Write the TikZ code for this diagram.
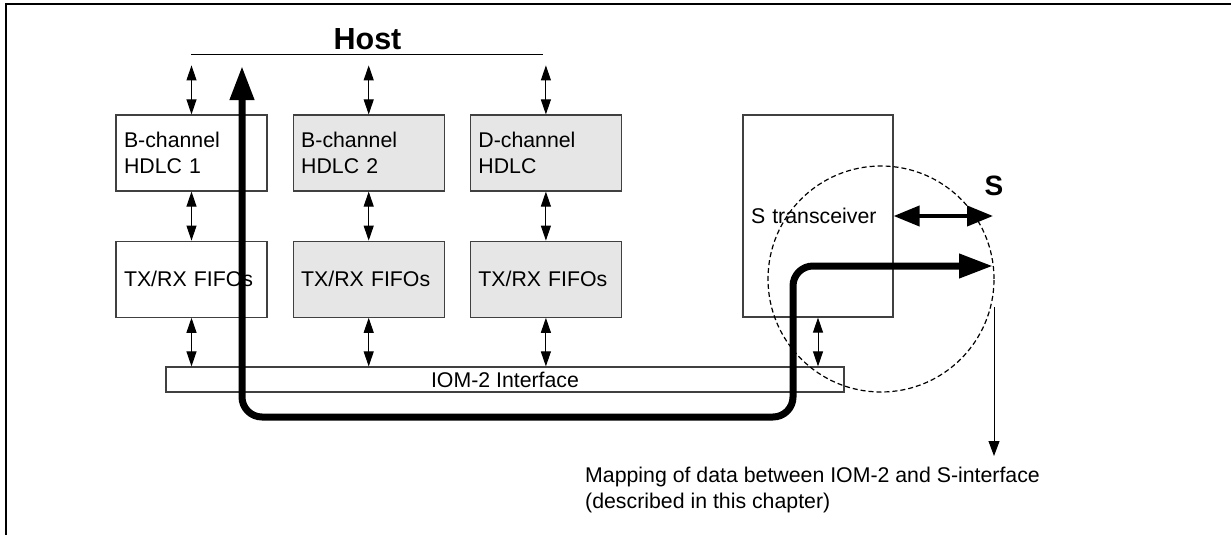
\documentclass[tikz,border=0pt]{standalone}
\usepackage{fontspec}
\setmainfont{Liberation Sans}
\usepackage{tikz}
\usetikzlibrary{arrows.meta,positioning}
\definecolor{blkfill}{HTML}{E6E6E6}
\definecolor{blkline}{HTML}{404040}

\begin{document}
\begin{tikzpicture}[x=1pt,y=-1pt,font=\fontsize{21.3}{26}\selectfont,
  blk/.style={draw=blkline,line width=1.2pt,inner xsep=8pt,inner ysep=0pt,
    text width=135pt,align=left,minimum height=76pt},
  io/.style={<->,line width=1pt,>={Triangle[length=15pt,width=10pt]}},
  sarr/.style={<->,line width=4pt,>={Triangle[length=26pt,width=20pt]}},
  bus/.style={<->,line width=7pt,rounded corners=20pt,>={Triangle[length=34pt,width=23pt]}},
  ptr/.style={->,line width=1pt,>={Triangle[length=15pt,width=11pt]}}]
  \useasboundingbox (0,0) rectangle (1231,535);
  % frame
  \draw[line width=2.5pt] (6,535) -- (6,4) -- (1231,4);
  % host bus
  \node[font=\bfseries\fontsize{30.5}{36}\selectfont,anchor=base] (host) at (367.5,50) {Host};
  \coordinate (hl) at (191,55);
  \coordinate (hr) at (543,55);
  \draw[line width=1pt] (hl) -- (hr);
  % HDLC controllers and FIFOs
  \node[blk] (b1) at (191.5,153) {B-channel\\HDLC 1};
  \node[blk,fill=blkfill,right=25pt of b1] (b2) {B-channel\\HDLC 2};
  \node[blk,fill=blkfill,right=25pt of b2] (b3) {D-channel\\HDLC};
  \node[blk,below=49pt of b1] (f1) {TX/RX FIFOs};
  \node[blk,fill=blkfill,below=49pt of b2] (f2) {TX/RX FIFOs};
  \node[blk,fill=blkfill,below=49pt of b3] (f3) {TX/RX FIFOs};
  % IOM-2 and S transceiver
  \node[draw=blkline,line width=1.2pt,minimum width=678pt,minimum height=25pt,inner sep=0pt]
        (iom) at (505,379.5) {IOM-2 Interface};
  \node[blk,text width=134pt,minimum height=202pt] (sx) at (818,216) {S transceiver};
  \foreach \n in {1,2,3} {
    \draw[io] ([yshift=49pt]b\n.north) -- (b\n.north);
    \draw[io] (b\n.south) -- (f\n.north);
    \draw[io] (f\n.south) -- (f\n.south |- iom.north);
  }
  \draw[io] (sx.south) -- (sx.south |- iom.north);
  % S interface
  \coordinate (sout) at (993,216);
  \draw[sarr] (sx.east) -- (sout);
  \node[font=\bfseries\fontsize{28}{34}\selectfont,anchor=base] (slbl) at (994,195) {S};
  \node[draw,circle,line width=1.2pt,dash pattern=on 5pt off 3pt,minimum size=226pt,inner sep=0pt]
        (zone) at (881,279) {};
  % data path host <-> S
  \coordinate (hostin) at (242,66);
  \coordinate (bend) at (793,417);
  \coordinate (sline) at (993,266);
  \draw[bus] (hostin) |- (bend) |- (sline);
  % mapping note
  \coordinate (mapfrom) at (994,307);
  \coordinate (mapto) at (994,456);
  \draw[ptr] (mapfrom) -- (mapto);
  \node[anchor=north west,align=left,inner sep=0pt] (maptxt) at (585,467)
        {Mapping of data between IOM-2 and S-interface\\(described in this chapter)};
\end{tikzpicture}
\end{document}
